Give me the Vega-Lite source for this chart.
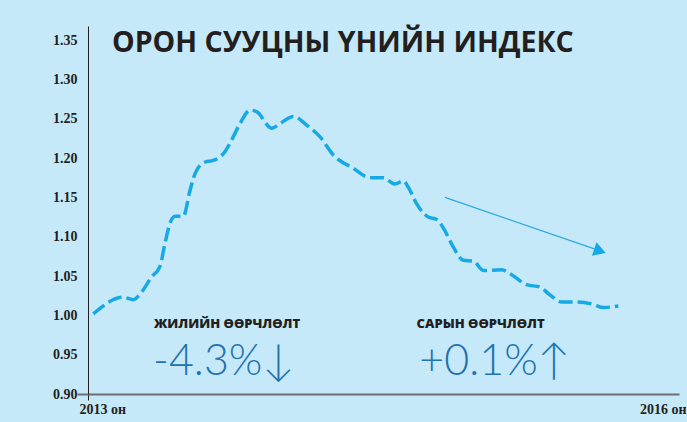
{
  "$schema": "https://vega.github.io/schema/vega-lite/v6.json",
  "width": 591,
  "height": 368,
  "autosize": {"type": "none"},
  "padding": {"left": 88, "top": 26, "right": 8, "bottom": 28},
  "background": "#c6e9f9",
  "config": {"view": {"stroke": null}},
  "layer": [
    {
      "data": {"values": [
        {"t": 2013.027, "v": 1.002}, {"t": 2013.179, "v": 1.023}, {"t": 2013.230, "v": 1.020},
        {"t": 2013.273, "v": 1.030}, {"t": 2013.323, "v": 1.049}, {"t": 2013.365, "v": 1.062},
        {"t": 2013.391, "v": 1.092}, {"t": 2013.416, "v": 1.117}, {"t": 2013.442, "v": 1.126},
        {"t": 2013.484, "v": 1.126}, {"t": 2013.518, "v": 1.159}, {"t": 2013.543, "v": 1.180},
        {"t": 2013.594, "v": 1.195}, {"t": 2013.636, "v": 1.197}, {"t": 2013.695, "v": 1.208},
        {"t": 2013.729, "v": 1.223}, {"t": 2013.772, "v": 1.244}, {"t": 2013.822, "v": 1.261},
        {"t": 2013.856, "v": 1.259}, {"t": 2013.932, "v": 1.238}, {"t": 2013.975, "v": 1.244},
        {"t": 2014.042, "v": 1.253}, {"t": 2014.110, "v": 1.242}, {"t": 2014.178, "v": 1.227},
        {"t": 2014.245, "v": 1.204}, {"t": 2014.347, "v": 1.187}, {"t": 2014.431, "v": 1.175},
        {"t": 2014.499, "v": 1.175}, {"t": 2014.558, "v": 1.167}, {"t": 2014.600, "v": 1.171},
        {"t": 2014.626, "v": 1.163}, {"t": 2014.668, "v": 1.142}, {"t": 2014.727, "v": 1.125},
        {"t": 2014.770, "v": 1.122}, {"t": 2014.804, "v": 1.111}, {"t": 2014.854, "v": 1.087},
        {"t": 2014.905, "v": 1.070}, {"t": 2014.956, "v": 1.069}, {"t": 2015.007, "v": 1.057},
        {"t": 2015.100, "v": 1.058}, {"t": 2015.142, "v": 1.053}, {"t": 2015.227, "v": 1.039},
        {"t": 2015.294, "v": 1.036}, {"t": 2015.345, "v": 1.026}, {"t": 2015.405, "v": 1.017},
        {"t": 2015.481, "v": 1.017}, {"t": 2015.565, "v": 1.014}, {"t": 2015.616, "v": 1.010},
        {"t": 2015.692, "v": 1.012}
      ]},
      "mark": {"type": "line", "color": "#16a9e6", "strokeWidth": 3.5, "strokeDash": [14, 5], "interpolate": "monotone"},
      "encoding": {
        "x": {
          "field": "t", "type": "quantitative",
          "scale": {"domain": [2013, 2016], "nice": false, "zero": false},
          "axis": {
            "title": null, "grid": false, "values": [2013, 2016],
            "labelExpr": "datum.value + ' он'",
            "labelFont": "Liberation Serif", "labelFontWeight": "bold", "labelFontSize": 14, "labelColor": "#231f20",
            "labelAlign": {"condition": {"test": "datum.value === 2013", "value": "left"}, "value": "right"},
            "labelOffset": {"condition": {"test": "datum.value === 2013", "value": -9}, "value": 7},
            "labelPadding": 2,
            "tickSize": 6, "tickWidth": 1,
            "tickColor": {"condition": {"test": "datum.value === 2013", "value": "#231f20"}, "value": "transparent"},
            "domainColor": "#6d6e71", "domainWidth": 2
          }
        },
        "y": {
          "field": "v", "type": "quantitative",
          "scale": {"domain": [0.9, 1.368], "nice": false, "zero": false},
          "axis": {
            "title": null, "grid": false,
            "values": [0.9, 0.95, 1.0, 1.05, 1.1, 1.15, 1.2, 1.25, 1.3, 1.35],
            "format": ".2f",
            "labelFont": "Liberation Serif", "labelFontWeight": "bold", "labelFontSize": 14, "labelColor": "#231f20",
            "labelPadding": 0,
            "tickSize": 11, "tickWidth": 2,
            "tickColor": {"condition": {"test": "datum.value === 0.9", "value": "#6d6e71"}, "value": "transparent"},
            "domainColor": "#231f20", "domainWidth": 1
          }
        }
      }
    },
    {
      "data": {"values": [{"t": 2014.812, "v": 1.150, "t2": 2015.6, "v2": 1.082}]},
      "mark": {"type": "rule", "color": "#29a9e1", "strokeWidth": 1.2},
      "encoding": {
        "x": {"field": "t", "type": "quantitative"},
        "y": {"field": "v", "type": "quantitative"},
        "x2": {"field": "t2"},
        "y2": {"field": "v2"}
      }
    },
    {
      "data": {"values": [{"t": 2015.599, "v": 1.0818}]},
      "mark": {"type": "point", "shape": "triangle-right", "filled": true, "size": 200, "angle": 19, "color": "#16a9e6", "opacity": 1},
      "encoding": {
        "x": {"field": "t", "type": "quantitative"},
        "y": {"field": "v", "type": "quantitative"}
      }
    },
    {
      "data": {"values": [{"t": 2013.122, "v": 1.3347, "label": "ОРОН СУУЦНЫ ҮНИЙН ИНДЕКС"}]},
      "mark": {"type": "text", "font": "Open Sans", "fontWeight": "bold", "fontSize": 28.5, "color": "#231f20", "align": "left", "baseline": "alphabetic"},
      "encoding": {
        "x": {"field": "t", "type": "quantitative"},
        "y": {"field": "v", "type": "quantitative"},
        "text": {"field": "label"}
      }
    },
    {
      "data": {"values": [
        {"t": 2013.335, "v": 0.9839, "label": "ЖИЛИЙН ӨӨРЧЛӨЛТ"},
        {"t": 2014.668, "v": 0.9839, "label": "САРЫН ӨӨРЧЛӨЛТ"}
      ]},
      "mark": {"type": "text", "font": "Open Sans", "fontWeight": 800, "fontSize": 13, "color": "#231f20", "align": "left", "baseline": "alphabetic"},
      "encoding": {
        "x": {"field": "t", "type": "quantitative"},
        "y": {"field": "v", "type": "quantitative"},
        "text": {"field": "label"}
      }
    },
    {
      "data": {"values": [
        {"t": 2013.330, "v": 0.9241, "label": "-4.3%↓"},
        {"t": 2014.682, "v": 0.9241, "label": "+0.1%↑"}
      ]},
      "mark": {"type": "text", "font": "Lato", "fontWeight": 300, "fontSize": 43, "color": "#2272b0", "align": "left", "baseline": "alphabetic"},
      "encoding": {
        "x": {"field": "t", "type": "quantitative"},
        "y": {"field": "v", "type": "quantitative"},
        "text": {"field": "label"}
      }
    }
  ]
}
